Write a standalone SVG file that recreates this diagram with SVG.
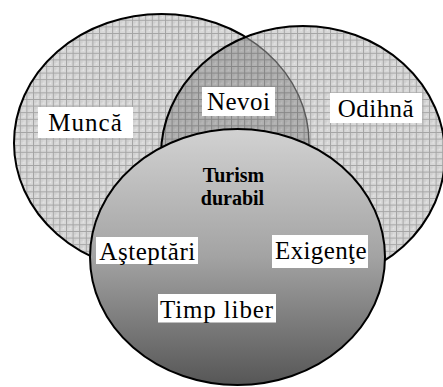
<svg xmlns="http://www.w3.org/2000/svg" width="443" height="387" viewBox="0 0 443 387">
  <defs>
    <!-- crosshatch texture for the two upper sets -->
    <pattern id="hatch" patternUnits="userSpaceOnUse" width="6.6" height="6.6">
      <rect width="6.6" height="6.6" fill="#d8d8d8"/>
      <rect x="1.5" y="1.5" width="2" height="2" fill="#cdcdcd"/>
      <rect x="3.5" y="3.5" width="1" height="1" fill="#f4f4f4"/>
      <path d="M0.5 0V6.6M0 0.5H6.6" stroke="#a4a4a4" stroke-width="1" fill="none"/>
    </pattern>
    <linearGradient id="shade" x1="0" y1="0" x2="0" y2="1">
      <stop offset="0" stop-color="#d2d2d2"/>
      <stop offset="0.5" stop-color="#a3a3a3"/>
      <stop offset="1" stop-color="#565656"/>
    </linearGradient>
    <clipPath id="inRight">
      <ellipse cx="303" cy="155" rx="142" ry="129"/>
    </clipPath>
    <style>
      .set { stroke: #000; stroke-width: 2; }
      .box { fill: #fff; }
      .serif { font-family: 'Liberation Serif', 'Times New Roman', 'DejaVu Serif', serif; }
    </style>
  </defs>

  <!-- Work -->
  <g id="munca">
    <ellipse class="set" cx="161.5" cy="143" rx="147.5" ry="129" fill="url(#hatch)"/>
  </g>

  <!-- Rest, with the shared area darkened -->
  <g id="odihna">
    <ellipse cx="303" cy="155" rx="142" ry="129" fill="url(#hatch)"/>
    <ellipse cx="161.5" cy="143" rx="147.5" ry="129" clip-path="url(#inRight)"
             fill="#000" fill-opacity="0.18" stroke="#5a5a5a" stroke-width="1.5"/>
    <ellipse class="set" cx="303" cy="155" rx="142" ry="129" fill="none"/>
  </g>

  <!-- Sustainable tourism -->
  <g id="turism" class="serif" font-size="20" font-weight="bold" text-anchor="middle">
    <ellipse class="set" cx="237.5" cy="257" rx="147.5" ry="128" fill="url(#shade)"/>
    <text x="233.5" y="182">Turism</text>
    <text x="232.5" y="205">durabil</text>
  </g>

  <g id="labels" class="serif" font-size="25" fill="#000">
    <g id="label-munca">
      <rect class="box" x="38" y="107" width="95" height="31"/>
      <text x="48.3" y="131" textLength="73.5" lengthAdjust="spacing">Muncă</text>
    </g>
    <g id="label-nevoi">
      <rect class="box" x="202" y="87" width="73" height="29"/>
      <text x="207" y="110" textLength="63" lengthAdjust="spacing">Nevoi</text>
    </g>
    <g id="label-odihna">
      <rect class="box" x="330" y="93" width="92" height="30"/>
      <text x="337.7" y="117" textLength="76" lengthAdjust="spacing">Odihnă</text>
    </g>
    <g id="label-asteptari">
      <rect class="box" x="96" y="237" width="102" height="27"/>
      <text x="99.3" y="259.5" textLength="96" lengthAdjust="spacing">Aşteptări</text>
    </g>
    <g id="label-exigente">
      <rect class="box" x="272" y="235" width="96" height="33"/>
      <text x="275" y="259" textLength="91.5" lengthAdjust="spacing">Exigenţe</text>
    </g>
    <g id="label-timp">
      <rect class="box" x="158" y="294" width="118" height="28.5"/>
      <text x="160" y="318.3" textLength="113" lengthAdjust="spacing">Timp liber</text>
    </g>
  </g>

  <!-- no connectors in this diagram -->
  <g id="connectors"/>
</svg>
